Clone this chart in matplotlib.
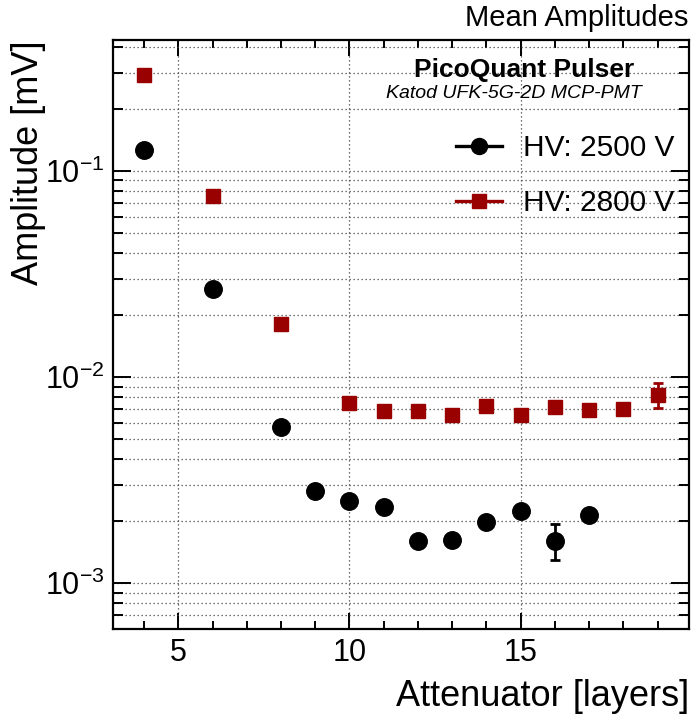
import matplotlib
matplotlib.use("Agg")
import matplotlib.pyplot as plt
from matplotlib.lines import Line2D
from matplotlib.ticker import LogLocator, LogFormatterSciNotation, NullFormatter, MultipleLocator

plt.rcParams['font.family'] = ['Liberation Sans', 'DejaVu Sans']
plt.rcParams['mathtext.fontset'] = 'custom'
plt.rcParams['mathtext.rm'] = 'Liberation Sans'
plt.rcParams['mathtext.default'] = 'regular'

# ---- data ----
layers_2500 = [4, 6, 8, 9, 10, 11, 12, 13, 14, 15, 16, 17]
amp_2500 = [0.1264, 0.02668, 0.00574, 0.00280, 0.00252, 0.00234,
            0.00160, 0.00163, 0.00199, 0.00224, 0.00161, 0.00215]
err_2500 = [0.002, 0.0003, 0.00006, 0.00003, 0.00003, 0.00003,
            0.00002, 0.00002, 0.00003, 0.00004, 0.00032, 0.00015]

layers_2800 = [4, 6, 8, 10, 11, 12, 13, 14, 15, 16, 17, 18, 19]
amp_2800 = [0.292, 0.0756, 0.01811, 0.00748, 0.00687, 0.00687, 0.00657,
            0.00726, 0.00657, 0.00717, 0.00692, 0.00700, 0.00821]
err_2800 = [0.004, 0.0008, 0.0002, 0.00008, 0.00008, 0.00008, 0.00008,
            0.00008, 0.00008, 0.00008, 0.00008, 0.00010, 0.00113]

labels = ["HV: 2500 V", "HV: 2800 V"]
RED = '#990000'

W, H = 697, 714
fig = plt.figure(figsize=(W / 100, H / 100), dpi=100)
L, R, T, B = 112.6, 689.0, 40.0, 629.3
ax = fig.add_axes([L / W, 1 - B / H, (R - L) / W, (B - T) / H])

ax.errorbar(layers_2500, amp_2500, yerr=err_2500, fmt='o', color='black',
            markersize=12.6, elinewidth=2.0, capsize=3.5, capthick=2.0, zorder=3)
ax.errorbar(layers_2800, amp_2800, yerr=err_2800, fmt='s', color=RED,
            markersize=10.0, elinewidth=2.0, capsize=3.5, capthick=2.0, zorder=3)

ax.set_yscale('log')
ax.set_xlim(3.08, 19.92)
ax.set_ylim(5.98e-4, 0.4318)

ax.xaxis.set_major_locator(MultipleLocator(5))
ax.xaxis.set_minor_locator(MultipleLocator(1))
ax.yaxis.set_major_locator(LogLocator(base=10))
ax.yaxis.set_minor_locator(LogLocator(base=10, subs=range(2, 10)))
ax.yaxis.set_major_formatter(LogFormatterSciNotation())
ax.yaxis.set_minor_formatter(NullFormatter())

ax.tick_params(which='both', direction='in', top=True, right=True, width=1.4)
ax.tick_params(axis='x', which='major', length=11.5, labelsize=22, pad=6)
ax.tick_params(axis='x', which='minor', length=5.5)
ax.tick_params(axis='y', which='major', length=13, labelsize=22, pad=6)
ax.tick_params(axis='y', which='minor', length=7)

for s in ax.spines.values():
    s.set_linewidth(1.6)

grid_kw = dict(color='#444444', linestyle=(0, (1, 2.2)), linewidth=0.9)
ax.grid(True, axis='x', which='major', **grid_kw)
ax.grid(True, axis='y', which='both', **grid_kw)
ax.set_axisbelow(True)

ax.set_xlabel("Attenuator [layers]", fontsize=26, loc='right', labelpad=8)
ax.set_ylabel("Amplitude [mV]", fontsize=26, loc='top')
ax.yaxis.set_label_coords((46 - L) / (R - L), 1.0)

fig.text(688 / W, 1 - 18 / H, "Mean Amplitudes", ha='right', va='center', fontsize=21)
fig.text(524 / W, 1 - 70 / H, "PicoQuant Pulser", ha='center', va='center',
         fontsize=19, fontweight='bold')
fig.text(514 / W, 1 - 93 / H, "Katod UFK-5G-2D MCP-PMT", ha='center', va='center',
         fontsize=14, style='italic')

handles = [Line2D([], [], color='black', marker='o', markersize=11.5, lw=2.4),
           Line2D([], [], color=RED, marker='s', markersize=9.5, lw=2.4)]
ax.legend(handles, labels, loc='upper left', bbox_to_anchor=(456 / W, 1 - 134 / H),
          bbox_transform=fig.transFigure, frameon=False, fontsize=21.5,
          handlelength=1.53, handletextpad=0.7, labelspacing=0.92,
          borderpad=0, borderaxespad=0)

fig.savefig("out.png", dpi=100)
